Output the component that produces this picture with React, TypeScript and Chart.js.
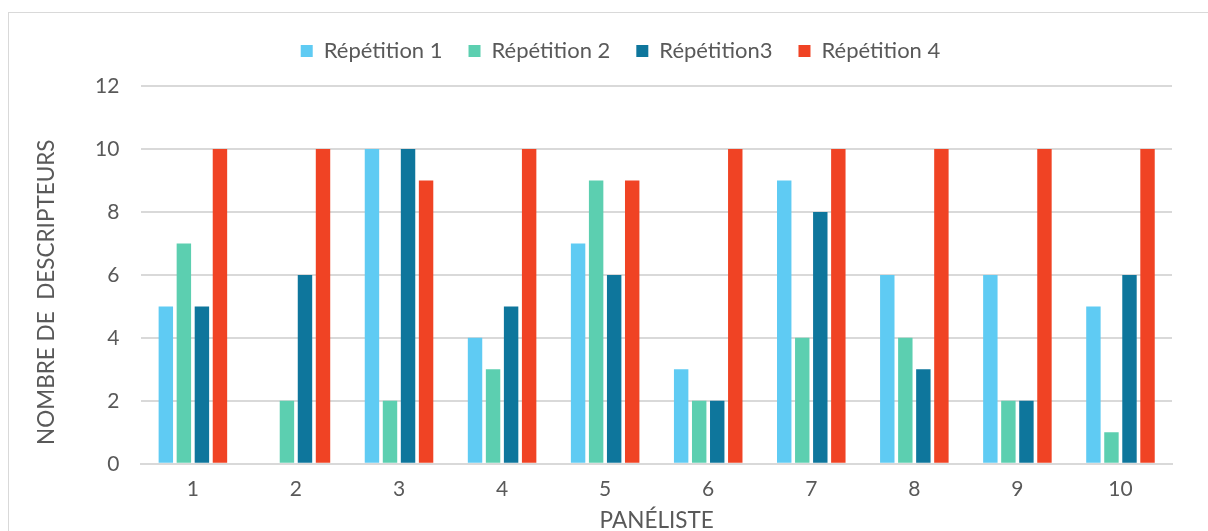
import React, { useEffect, useRef } from "react";
import { Chart, registerables } from "chart.js";

Chart.register(...registerables);

const categories = ["1", "2", "3", "4", "5", "6", "7", "8", "9", "10"];
const rep1 = [5, 0, 10, 4, 7, 3, 9, 6, 6, 5];
const rep2 = [7, 2, 2, 3, 9, 2, 4, 4, 2, 1];
const rep3 = [5, 6, 10, 5, 6, 2, 8, 3, 2, 6];
const rep4 = [10, 10, 9, 10, 9, 10, 10, 10, 10, 10];
const seriesNames = ["Répétition 1", "Répétition 2", "Répétition3", "Répétition 4"];
const colors = ["#5FCBF3", "#5CCFB0", "#0E769C", "#F04324"];

const FONT = "Lato, 'Open Sans', sans-serif";
const TEXT = "#595959";

const legendTweak = {
  id: "legendTweak",
  beforeInit(chart: any) {
    const legend = chart.legend;
    if (!legend) return;
    const orig = legend.fit;
    legend.fit = function () {
      orig.call(this);
      this.height += 14;
    };
  },
  afterLayout(chart: any) {
    if (chart.legend) {
      chart.legend.left += 18;
      chart.legend.right += 18;
    }
  },
};

export default function App() {
  const ref = useRef<HTMLCanvasElement>(null);
  useEffect(() => {
    document.body.style.overflow = "hidden";
    const values = [rep1, rep2, rep3, rep4];
    const chart = new Chart(ref.current!, {
      type: "bar",
      data: {
        labels: categories,
        datasets: values.map((v, i) => ({
          label: seriesNames[i],
          data: v,
          backgroundColor: colors[i],
          borderWidth: 0,
          categoryPercentage: 0.7,
          barPercentage: 0.8,
        })),
      },
      plugins: [legendTweak],
      options: {
        animation: false,
        responsive: true,
        maintainAspectRatio: false,
        layout: { padding: { left: 33, right: 36, top: 14, bottom: -3 } },
        plugins: {
          tooltip: { enabled: false },
          legend: {
            position: "top",
            labels: {
              boxWidth: 12,
              boxHeight: 12,
              color: TEXT,
              font: { family: FONT, size: 22 },
              padding: 26,
            },
          },
        },
        scales: {
          x: {
            grid: { display: false },
            border: { color: "#d9d9d9", width: 2 },
            ticks: { color: TEXT, font: { family: FONT, size: 21 }, padding: 5 },
            title: {
              display: true,
              text: "PANÉLISTE",
              color: TEXT,
              font: { family: FONT, size: 22.5 },
              padding: { top: 0, bottom: 0 },
            },
          },
          y: {
            min: 0,
            max: 12,
            ticks: { stepSize: 2, color: TEXT, font: { family: FONT, size: 21 }, padding: 22 },
            grid: { color: "#d9d9d9", lineWidth: 2, drawTicks: false },
            border: { display: false },
            title: {
              display: true,
              text: "NOMBRE DE  DESCRIPTEURS      ",
              color: TEXT,
              font: { family: FONT, size: 22.5 },
              padding: { top: 0, bottom: 13 },
            },
          },
        },
      },
    });
    return () => chart.destroy();
  }, []);
  return (
    <>
      <div
        style={{
          position: "absolute",
          left: 8,
          top: 12,
          width: 1230,
          height: 560,
          border: "1px solid #d9d9d9",
          boxSizing: "border-box",
        }}
      />
      <div style={{ position: "absolute", left: 0, top: 0, width: 1208, height: 531 }}>
        <canvas ref={ref} />
      </div>
    </>
  );
}
